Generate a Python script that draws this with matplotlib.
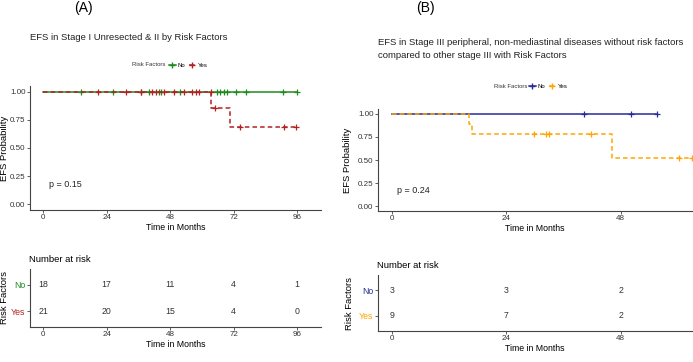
import matplotlib
matplotlib.use("Agg")
import matplotlib.pyplot as plt
from matplotlib.lines import Line2D
import numpy as np

plt.rcParams['font.family'] = ['Liberation Sans', 'DejaVu Sans']

# -------------------------
# Panel A data
# -------------------------
a_no_t = [0, 96]
a_no_s = [1.0, 1.0]
a_no_cens = [14.3, 26.2, 36.9, 40.0, 43.8, 44.4, 51.8, 65.8, 67.0, 68.3, 69.5, 72.9, 76.8, 90.7, 96.0]

a_yes_t = [0, 63.6, 70.5, 95.4]
a_yes_s = [1.0, 0.857, 0.686, 0.686]
a_yes_cens = [20.6, 31.2, 36.9, 41.3, 42.5, 45.6, 49.4, 53.2, 56.4, 57.6, 58.8, 63.3,
              64.9, 74.2, 91.2, 95.4]

a_ticks = [0, 24, 48, 72, 96]
a_risk_no = [18, 17, 11, 4, 1]
a_risk_yes = [21, 20, 15, 4, 0]

# -------------------------
# Panel B data
# -------------------------
b_no_t = [0, 55.7]
b_no_s = [1.0, 1.0]
b_no_cens = [40.3, 50.1, 55.7]

b_yes_t = [0, 16.1, 16.8, 46.1, 62.9]
b_yes_s = [1.0, 0.889, 0.778, 0.519, 0.519]
b_yes_cens = [29.8, 32.4, 32.9, 41.7, 60.3, 62.9]

b_ticks = [0, 24, 48]
b_risk_no = [3, 3, 2]
b_risk_yes = [9, 7, 2]

green = "#1f8a1f"
red = "#b22222"
blue = "#2a2a9a"
orange = "#ffa500"
axcol = "#444444"

W, H = 693, 362
fig = plt.figure(figsize=(W / 100, H / 100), dpi=100)


def ax_px(left, top, right, bottom):
    return fig.add_axes([left / W, 1 - bottom / H, (right - left) / W, (bottom - top) / H])


def style(ax):
    for s in ["top", "right"]:
        ax.spines[s].set_visible(False)
    for s in ["left", "bottom"]:
        ax.spines[s].set_color(axcol)
        ax.spines[s].set_linewidth(0.8)
    ax.tick_params(colors=axcol, labelcolor="#333333", labelsize=5.8, length=2, width=0.6, pad=1.2)


def surv_at(t, times, surv):
    idx = np.searchsorted(times, t, side="right") - 1
    return np.array(surv)[idx]


def km(ax, t, s, cens, color, ls):
    ax.step(t, s, where="post", color=color, lw=1.1, linestyle=ls)
    ax.plot(cens, surv_at(cens, t, s), linestyle="none", marker="+", color=color, ms=5, mew=0.9)


def main_panel(ax, ticks, xlim, pval, px, py, ylab_x):
    style(ax)
    ax.set_xlim(*xlim)
    ax.set_ylim(-0.05, 1.05)
    ax.set_xticks(ticks)
    ax.set_yticks([0, 0.25, 0.5, 0.75, 1.0])
    ax.set_yticklabels(["0.00", "0.25", "0.50", "0.75", "1.00"])
    ax.set_xlabel("Time in Months", fontsize=6.3, labelpad=1)
    ax.set_ylabel("EFS Probability", fontsize=6.8)
    ax.yaxis.set_label_coords(ylab_x, 0.5)
    ax.text(px, py, pval, fontsize=6.5, color="#222222")


def risk_panel(ax, ticks, xlim, no_vals, yes_vals, cno, cyes, ylab_x):
    style(ax)
    ax.set_xlim(*xlim)
    ax.set_ylim(0.4, 2.6)
    ax.set_xticks(ticks)
    ax.set_yticks([2, 1])
    ax.set_yticklabels(["No", "Yes"])
    for lab, c in zip(ax.get_yticklabels(), [cno, cyes]):
        lab.set_color(c)
        lab.set_fontsize(6.3)
    for x, n in zip(ticks, no_vals):
        ax.text(x, 2, str(n), ha="center", va="center", fontsize=6.3, color="#333333")
    for x, n in zip(ticks, yes_vals):
        ax.text(x, 1, str(n), ha="center", va="center", fontsize=6.3, color="#333333")
    ax.set_xlabel("Time in Months", fontsize=6.3, labelpad=1)
    ax.set_ylabel("Risk Factors", fontsize=6.8)
    ax.yaxis.set_label_coords(ylab_x, 0.5)
    ax.set_title("Number at risk", loc="left", fontsize=6.8, pad=5, x=-0.003)


def legend(ax, cno, cyes, x_title, x_leg, y):
    fig.text(x_title / W, 1 - y / H, "Risk Factors", fontsize=4.3, va="center", color="#333333")
    handles = [Line2D([], [], color=cno, lw=1.1, marker="+", ms=4),
               Line2D([], [], color=cyes, lw=1.1, ls="--", marker="+", ms=4)]
    fig.legend(handles, ["No", "Yes"], ncol=2, loc="center left", frameon=False,
               bbox_to_anchor=(x_leg / W, 1 - y / H), fontsize=4.3, handlelength=1.1,
               handletextpad=0.4, columnspacing=0.6, borderaxespad=0, borderpad=0)


# -------------------------
# Panel A
# -------------------------
axA = ax_px(30, 86, 321, 210)
km(axA, a_no_t, a_no_s, a_no_cens, green, "-")
km(axA, a_yes_t, a_yes_s, a_yes_cens, red, (0, (3, 2)))
main_panel(axA, a_ticks, (-5, 105), "p = 0.15", 2, 0.15, -0.071)

axA2 = ax_px(30, 269, 321, 327)
risk_panel(axA2, a_ticks, (-5, 105), a_risk_no, a_risk_yes, green, red, -0.071)

fig.text(83 / W, 1 - 8 / H, "(A)", fontsize=10, ha="center", va="center")
fig.text(30 / W, 1 - 38 / H, "EFS in Stage I Unresected & II by Risk Factors",
         fontsize=6.8, va="center", color="#222222")
legend(axA, green, red, 132, 169, 65)

# -------------------------
# Panel B
# -------------------------
axB = ax_px(378, 109, 692, 211)
km(axB, b_no_t, b_no_s, b_no_cens, blue, "-")
km(axB, b_yes_t, b_yes_s, b_yes_cens, orange, (0, (3, 2)))
main_panel(axB, b_ticks, (-3, 63), "p = 0.24", 1, 0.14, -0.083)

axB2 = ax_px(378, 275, 692, 331)
risk_panel(axB2, b_ticks, (-3, 63), b_risk_no, b_risk_yes, blue, orange, -0.075)

fig.text(425 / W, 1 - 8 / H, "(B)", fontsize=10, ha="center", va="center")
fig.text(378 / W, 1 - 49 / H,
         "EFS in Stage III peripheral, non-mediastinal diseases without risk factors\n"
         "compared to other stage III with Risk Factors",
         fontsize=6.8, va="center", color="#222222", linespacing=1.6)
legend(axB, blue, orange, 494, 529, 86)

fig.savefig("out.png", dpi=100)
